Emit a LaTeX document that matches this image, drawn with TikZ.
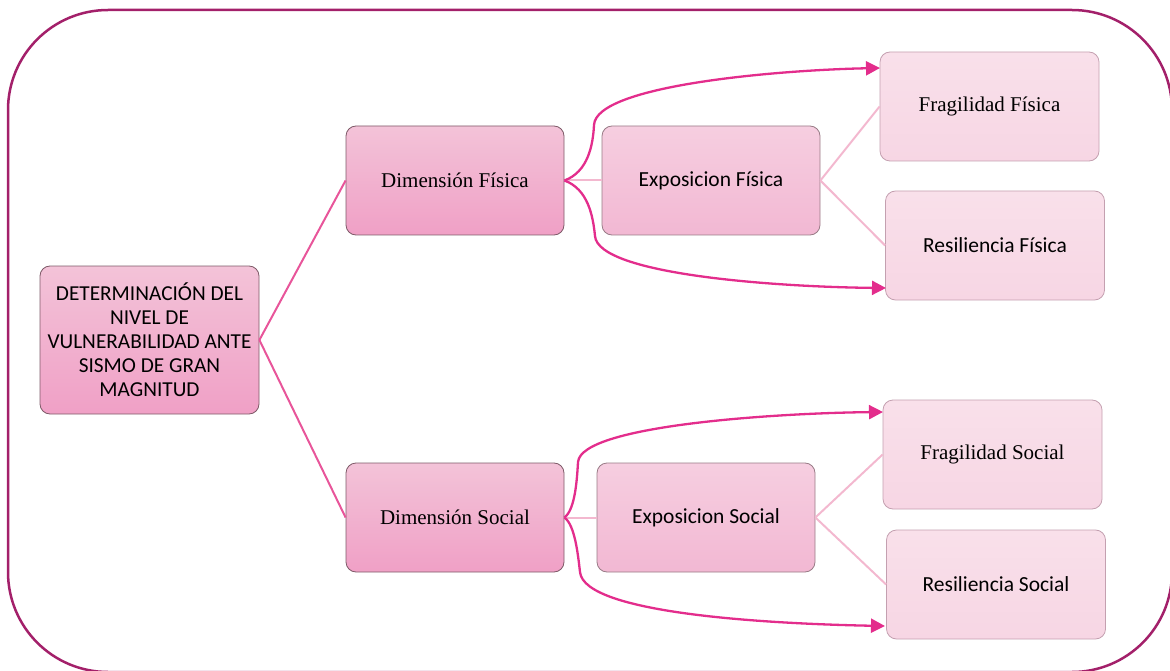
\documentclass[tikz,border=0pt]{standalone}
\usepackage{fontspec}
\setmainfont{Liberation Serif}
\newfontfamily\carlitofont{Carlito}
\usetikzlibrary{arrows.meta}
\definecolor{frameC}{HTML}{A3206A}
\definecolor{lineC}{HTML}{E8559A}
\definecolor{arrC}{HTML}{E32D8C}
\definecolor{paleC}{HTML}{F3B8CF}
\definecolor{darkTop}{HTML}{F3C3D8}
\definecolor{darkBot}{HTML}{F0A0C6}
\definecolor{midTop}{HTML}{F6CEE0}
\definecolor{midBot}{HTML}{F2B8D3}
\definecolor{lightTop}{HTML}{F9E0EA}
\definecolor{lightBot}{HTML}{F7D6E4}
\definecolor{bordD}{HTML}{7E5A68}
\definecolor{bordL}{HTML}{C4A0B0}
\tikzset{
  base/.style={rounded corners=10pt, inner sep=0pt, align=center, line width=0.8pt},
  darkbox/.style={base, draw=bordD, top color=darkTop, bottom color=darkBot, minimum width=218pt, minimum height=109pt},
  midbox/.style={base, draw=bordD!80, top color=midTop, bottom color=midBot, minimum width=218pt, minimum height=109pt},
  leafbox/.style={base, draw=bordL, top color=lightTop, bottom color=lightBot, minimum width=219pt, minimum height=109pt},
  rootline/.style={lineC, line width=2pt},
  paleline/.style={paleC, line width=2pt},
  curvearr/.style={arrC, line width=2.3pt, -{Triangle[length=14pt,width=14pt]}},
  ser/.style={font=\fontsize{21}{25}\selectfont},
  san/.style={font=\carlitofont\fontsize{21.5}{25}\selectfont},
}
\begin{document}
\begin{tikzpicture}[x=1pt,y=-1pt]
\useasboundingbox (0,0) rectangle (1170,671);
\draw[frameC, line width=2.5pt, rounded corners=100pt] (8,10) rectangle (1172,672);

\node[darkbox, minimum width=219pt, minimum height=148pt,
      font=\carlitofont\fontsize{21.3}{24}\selectfont] (root) at (149.5,340)
  {DETERMINACIÓN DEL\\NIVEL DE\\VULNERABILIDAD ANTE\\SISMO DE GRAN\\MAGNITUD};

\node[darkbox, ser] (dimf) at (455,180.5) {Dimensión Física};
\node[midbox, san] (expf) at (711,180.5) {Exposicion Física};
\node[leafbox, ser] (fragf) at (989.5,106.5) {Fragilidad Física};
\node[leafbox, san] (resf) at (995,245.5) {Resiliencia Física};

\node[darkbox, ser] (dims) at (455,517.5) {Dimensión Social};
\node[midbox, san] (exps) at (706,517.5) {Exposicion Social};
\node[leafbox, ser] (frags) at (992.5,454.5) {Fragilidad Social};
\node[leafbox, san] (ress) at (996,584.5) {Resiliencia Social};

\draw[rootline] (root.east) -- (dimf.west);
\draw[rootline] (root.east) -- (dims.west);

\draw[paleline] (dimf.east) -- (expf.west);
\draw[paleline] (expf.east) -- (fragf.west);
\draw[paleline] (expf.east) -- (resf.west);
\draw[paleline] (dims.east) -- (exps.west);
\draw[paleline] (exps.east) -- (frags.west);
\draw[paleline] (exps.east) -- (ress.west);

\coordinate (af1) at (880,68);
\coordinate (af2) at (886,288);
\coordinate (as1) at (883,412);
\coordinate (as2) at (885,626);

\draw[curvearr] (dimf.east) .. controls (588,172) and (593,145) .. (594,125)
   .. controls (596,85) and (780,70) .. (af1);
\draw[curvearr] (dimf.east) .. controls (588,189) and (593,216) .. (595,236)
   .. controls (598,275) and (780,287) .. (af2);
\draw[curvearr] (dims.east) .. controls (575,510) and (577,480) .. (578,462)
   .. controls (581,425) and (780,413) .. (as1);
\draw[curvearr] (dims.east) .. controls (575,525) and (578,555) .. (580,572)
   .. controls (584,615) and (780,624) .. (as2);
\end{tikzpicture}
\end{document}
